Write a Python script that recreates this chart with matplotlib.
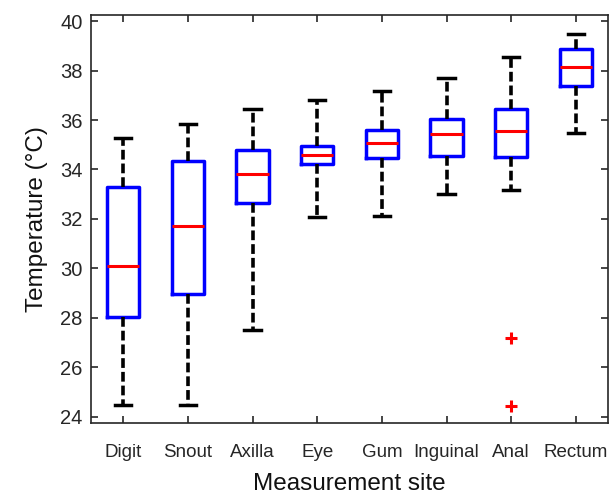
import matplotlib.pyplot as plt

plt.rcParams['font.family'] = ['Liberation Sans', 'DejaVu Sans']

sites = ['Digit', 'Snout', 'Axilla', 'Eye', 'Gum', 'Inguinal', 'Anal', 'Rectum']
whislo = [24.49, 24.49, 27.51, 32.06, 32.12, 33.00, 33.17, 35.48]
q1 = [28.04, 28.96, 32.64, 34.23, 34.47, 34.55, 34.50, 37.38]
med = [30.09, 31.70, 33.83, 34.58, 35.08, 35.43, 35.55, 38.15]
q3 = [33.30, 34.33, 34.80, 34.96, 35.58, 36.05, 36.45, 38.86]
whishi = [35.26, 35.84, 36.43, 36.81, 37.17, 37.71, 38.53, 39.46]
outliers = [[], [], [], [], [], [], [27.19, 24.45], []]

stats = []
for i, name in enumerate(sites):
    stats.append(dict(label=name, whislo=whislo[i], q1=q1[i], med=med[i],
                      q3=q3[i], whishi=whishi[i], fliers=outliers[i]))

fig = plt.figure(figsize=(6.1, 4.97), dpi=100)
ax = fig.add_axes([0.149, 0.149, 0.848, 0.821])

ax.bxp(stats, positions=range(1, 9), widths=0.5, capwidths=0.25,
       boxprops=dict(color='#0000ff', linewidth=2.5),
       medianprops=dict(color='#ff0000', linewidth=2.2),
       whiskerprops=dict(color='black', linewidth=2.6, linestyle=(0, (2.7, 1.1))),
       capprops=dict(color='black', linewidth=2.5),
       flierprops=dict(marker='+', markeredgecolor='#ff0000', markersize=8, markeredgewidth=2.2))

ax.set_xlim(0.5, 8.5)
ax.set_ylim(23.75, 40.25)
ax.set_yticks(range(24, 41, 2))

for s in ax.spines.values():
    s.set_color('#262626')
    s.set_linewidth(1.2)
ax.tick_params(direction='in', length=5, width=1.2, top=True, right=True, colors='#262626')
ax.tick_params(axis='y', labelsize=14.5, pad=6)
ax.tick_params(axis='x', labelsize=13.5, pad=15)

ax.set_xlabel('Measurement site', fontsize=17.5, color='#111111', labelpad=9)
ax.set_ylabel('Temperature (°C)', fontsize=17.5, color='#111111', labelpad=9)

plt.savefig('out.png', dpi=100)
